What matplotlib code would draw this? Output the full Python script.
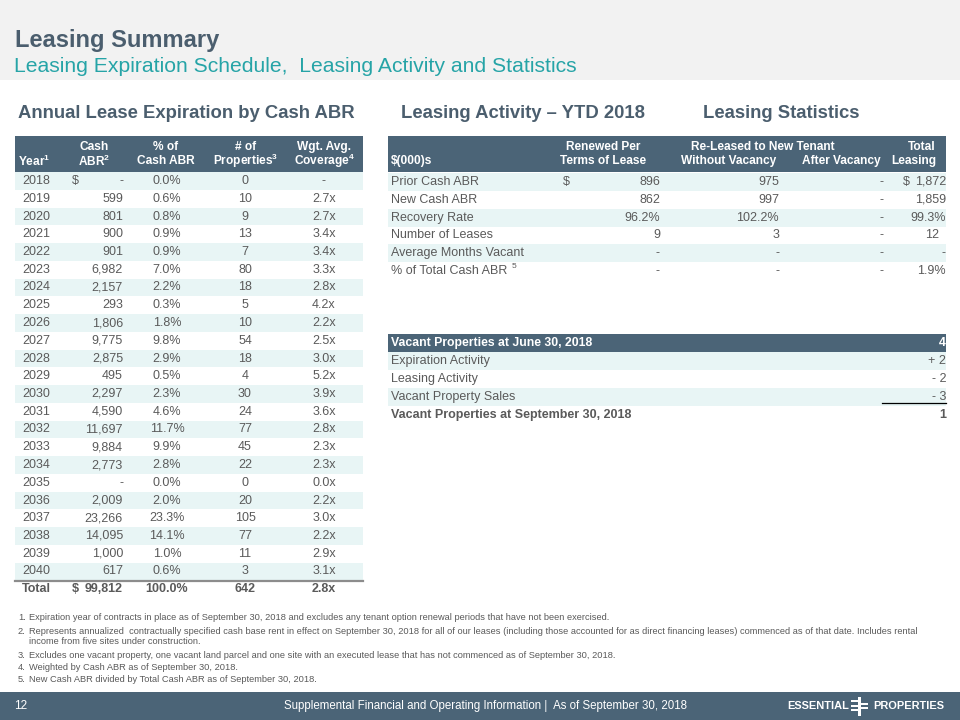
import matplotlib.pyplot as plt
from matplotlib.patches import Rectangle

plt.rcParams['font.family'] = ['Liberation Sans', 'DejaVu Sans']
plt.rcParams['mathtext.fontset'] = 'custom'
plt.rcParams['mathtext.rm'] = 'Liberation Sans'
plt.rcParams['mathtext.bf'] = 'Liberation Sans:bold'

# ---- annual lease expiration by cash ABR
years = ['2018', '2019', '2020', '2021', '2022', '2023', '2024', '2025', '2026', '2027', '2028',
         '2029', '2030', '2031', '2032', '2033', '2034', '2035', '2036', '2037', '2038', '2039', '2040']
cash_abr = [0, 599, 801, 900, 901, 6982, 2157, 293, 1806, 9775, 2875,
            495, 2297, 4590, 11697, 9884, 2773, 0, 2009, 23266, 14095, 1000, 617]
pct_abr = [0.0, 0.6, 0.8, 0.9, 0.9, 7.0, 2.2, 0.3, 1.8, 9.8, 2.9,
           0.5, 2.3, 4.6, 11.7, 9.9, 2.8, 0.0, 2.0, 23.3, 14.1, 1.0, 0.6]
num_props = [0, 10, 9, 13, 7, 80, 18, 5, 10, 54, 18, 4, 30, 24, 77, 45, 22, 0, 20, 105, 77, 11, 3]
coverage = [None, 2.7, 2.7, 3.4, 3.4, 3.3, 2.8, 4.2, 2.2, 2.5, 3.0,
            5.2, 3.9, 3.6, 2.8, 2.3, 2.3, 0.0, 2.2, 3.0, 2.2, 2.9, 3.1]
total_abr, total_pct, total_props, total_cov = 99812, 100.0, 642, 2.8

# ---- leasing activity YTD 2018
act_labels = ['Prior Cash ABR', 'New Cash ABR', 'Recovery Rate', 'Number of Leases',
              'Average Months Vacant', '% of Total Cash ABR']
act_renewed = ['896', '862', '96.2%', '9', '-', '-']
act_without = ['975', '997', '102.2%', '3', '-', '-']
act_after = ['-', '-', '-', '-', '-', '-']
act_total = ['1,872', '1,859', '99.3%', '12', '-', '1.9%']

# ---- leasing statistics
vac_labels = ['Vacant Properties at June 30, 2018', 'Expiration Activity', 'Leasing Activity',
              'Vacant Property Sales', 'Vacant Properties at September 30, 2018']
vac_values = ['4', '+ 2', '- 2', '- 3', '1']

footnotes = [
    ('1.', 'Expiration year of contracts in place as of September 30, 2018 and excludes any tenant option renewal periods that have not been exercised.'),
    ('2.', 'Represents annualized  contractually specified cash base rent in effect on September 30, 2018 for all of our leases (including those accounted for as direct financing leases) commenced as of that date. Includes rental'),
    ('', 'income from five sites under construction.'),
    ('3.', 'Excludes one vacant property, one vacant land parcel and one site with an executed lease that has not commenced as of September 30, 2018.'),
    ('4.', 'Weighted by Cash ABR as of September 30, 2018.'),
    ('5.', 'New Cash ABR divided by Total Cash ABR as of September 30, 2018.'),
]

HEAD = '#4b6477'
SHADE = '#e8f5f5'
TXT = '#5a5a5a'
TITLE = '#4b5e6e'
TEAL = '#26a4a7'

fig = plt.figure(figsize=(9.6, 7.2), dpi=100)
ax = fig.add_axes([0, 0, 1, 1])
ax.set_xlim(0, 960)
ax.set_ylim(720, 0)
ax.axis('off')


def box(x0, x1, y0, h, color):
    ax.add_patch(Rectangle((x0, y0), x1 - x0, h, color=color, lw=0, zorder=0))


def t(x, y, s, ha='left', size=9, color=TXT, weight='normal', **kw):
    ax.text(x, y, s, ha=ha, va='center', fontsize=size, color=color, fontweight=weight, **kw)


def num(v):
    return '-' if v == 0 else f'{v:,}'


# top band and titles
box(0, 960, 0, 80, '#f2f2f2')
t(15, 41, 'Leasing Summary', size=17, color=TITLE, weight='bold')
t(14, 67, 'Leasing Expiration Schedule,  Leasing Activity and Statistics', size=15.2, color=TEAL)

t(18, 114, 'Annual Lease Expiration by Cash ABR', size=13.3, color=TITLE, weight='bold')
t(401, 114, 'Leasing Activity \u2013 YTD 2018', size=13.3, color=TITLE, weight='bold')
t(703, 114, 'Leasing Statistics', size=13.3, color=TITLE, weight='bold')

# ---- left table
L0, L1 = 15, 363
box(L0, L1, 136, 36, HEAD)
hs = dict(size=8.6, color='white', weight='bold')
t(18, 161, r'Year$^{\mathbf{1}}$', **hs)
t(94, 147, 'Cash', ha='center', **hs)
t(94, 161, r'ABR$^{\mathbf{2}}$', ha='center', **hs)
t(166, 147, '% of', ha='center', **hs)
t(166, 161, 'Cash ABR', ha='center', **hs)
t(246, 147, '# of', ha='center', **hs)
t(246, 161, r'Properties$^{\mathbf{3}}$', ha='center', **hs)
t(324, 147, 'Wgt. Avg.', ha='center', **hs)
t(324, 161, r'Coverage$^{\mathbf{4}}$', ha='center', **hs)

rh = 17.75
for i, yr in enumerate(years):
    yc = 181 + rh * i
    if i % 2 == 0:
        box(L0, L1, yc - rh / 2, rh, SHADE)
    t(22, yc, yr)
    if i == 0:
        t(72, yc, '$')
    t(123, yc, num(cash_abr[i]), ha='right')
    t(167, yc, f'{pct_abr[i]:.1f}%', ha='center')
    t(245, yc, str(num_props[i]), ha='center')
    t(324, yc, '-' if coverage[i] is None else f'{coverage[i]:.1f}x', ha='center')

yt = 181 + rh * len(years)
ax.plot([L0, L1], [yt - 8.5, yt - 8.5], color='#8c8c8c', lw=1.6)
t(22, yt, 'Total', weight='bold')
t(72, yt, '$', weight='bold')
t(123, yt, f'{total_abr:,}', ha='right', weight='bold')
t(167, yt, f'{total_pct:.1f}%', ha='center', weight='bold')
t(245, yt, str(total_props), ha='center', weight='bold')
t(324, yt, f'{total_cov:.1f}x', ha='center', weight='bold')

# ---- leasing activity table
R0, R1 = 388, 946
box(R0, R1, 136, 36, HEAD)
t(391, 161, '$(000)s', **hs)
t(603, 147, 'Renewed Per', ha='center', **hs)
t(603, 161, 'Terms of Lease', ha='center', **hs)
t(763, 147, 'Re-Leased to New Tenant', ha='center', **hs)
t(729, 161, 'Without Vacancy', ha='center', **hs)
t(841, 161, 'After Vacancy', ha='center', **hs)
t(936, 147, 'Total', ha='right', **hs)
t(936, 161, 'Leasing', ha='right', **hs)

ah = 17.8
for i, lab in enumerate(act_labels):
    yc = 182 + ah * i
    if i % 2 == 0:
        box(R0, R1, yc - ah / 2, ah, SHADE)
    t(391, yc, lab)
    if i == 0:
        t(563, yc, '$')
        t(903, yc, '$')
    if i == len(act_labels) - 1:
        t(512, yc - 4, '5', size=6)
    t(660, yc, act_renewed[i], ha='right')
    t(779, yc, act_without[i], ha='right')
    t(883, yc, act_after[i], ha='right')
    t(946 if act_total[i] != '12' else 939, yc, act_total[i], ha='right')

# ---- leasing statistics
for i, lab in enumerate(vac_labels):
    yc = 343 + 18 * i
    if i == 0:
        box(R0, R1, yc - 9, 18, HEAD)
        t(391, yc, lab, size=8.8, color='white', weight='bold')
        t(946, yc, vac_values[i], ha='right', size=8.8, color='white', weight='bold')
        continue
    if i % 2 == 1:
        box(R0, R1, yc - 9, 18, SHADE)
    w = 'bold' if i == len(vac_labels) - 1 else 'normal'
    t(391, yc, lab, weight=w)
    t(946, yc, vac_values[i], ha='right', weight=w)
ax.plot([882, 946], [403, 403], color='black', lw=0.9)

# ---- footnotes
fy = [618, 631, 642, 656, 668, 680]
for (n, s), y in zip(footnotes, fy):
    t(18, y, n, size=6.7)
    t(29, y, s, size=6.7)

# ---- footer
box(0, 960, 692, 28, HEAD)
t(14, 706, '12', size=8.5, color='white')
t(486, 706, 'Supplemental Financial and Operating Information |  As of September 30, 2018', ha='center',
  size=8.3, color='white')
t(849, 706, 'ESSENTIAL', ha='right', size=7.9, color='white', weight='bold')
t(873, 706, 'PROPERTIES', ha='left', size=7.9, color='white', weight='bold')
box(858, 861, 697, 19, 'white')
for yy in (700, 704.5, 709):
    box(851, 858, yy, 2, 'white')
for yy in (702.5, 707):
    box(861, 868, yy, 2, 'white')

fig.savefig('out.png', dpi=100)
